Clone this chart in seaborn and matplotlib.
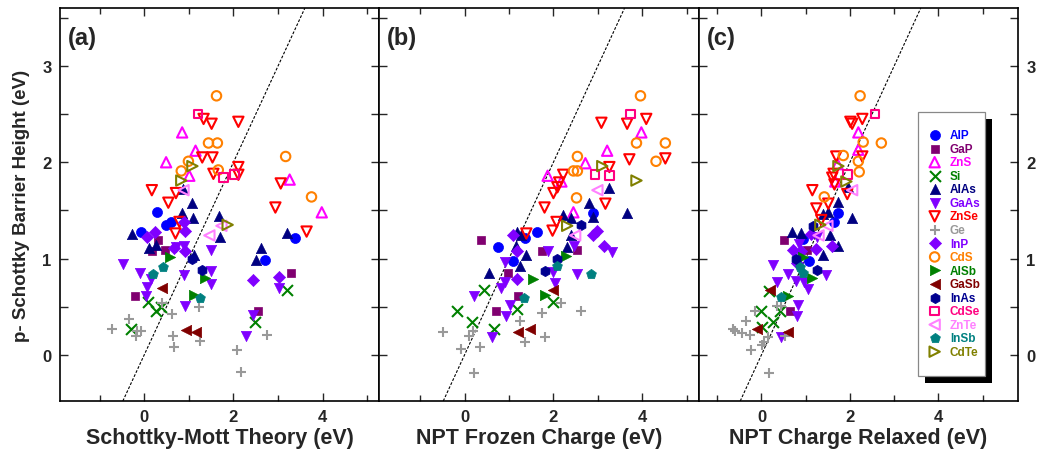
"""Schottky barrier heights vs. three model predictions (three panels)."""

import matplotlib

matplotlib.use("Agg")
import matplotlib.pyplot as plt
import seaborn as sns
from matplotlib.patches import Rectangle
from matplotlib.ticker import MultipleLocator

MATERIALS = ["AlP", "GaP", "ZnS", "Si", "AlAs", "GaAs", "ZnSe", "Ge", "InP",
             "CdS", "AlSb", "GaSb", "InAs", "CdSe", "ZnTe", "InSb", "CdTe"]
COLORS = {
    "AlP": "#0000FF", "GaP": "#800070", "ZnS": "#FF00FF", "Si": "#008000",
    "AlAs": "#000080", "GaAs": "#8000FF", "ZnSe": "#FF0000", "Ge": "#999999",
    "InP": "#8000FF", "CdS": "#FF8000", "AlSb": "#008000", "GaSb": "#800000",
    "InAs": "#000090", "CdSe": "#FF0080", "ZnTe": "#FF80FF", "InSb": "#008080",
    "CdTe": "#808000",
}
MARKERS = {
    "AlP": "o", "GaP": "s", "ZnS": "^", "Si": "x", "AlAs": "^", "GaAs": "v",
    "ZnSe": "v", "Ge": "+", "InP": "D", "CdS": "o", "AlSb": ">", "GaSb": "<",
    "InAs": "h", "CdSe": "s", "ZnTe": "<", "InSb": "p", "CdTe": ">",
}
OPEN = {"ZnS", "ZnSe", "CdS", "CdSe", "ZnTe", "CdTe"}
LINE_ART = {"Si", "Ge"}
SIZES = {"GaP": 40, "InP": 38, "CdSe": 38, "AlP": 52, "CdS": 46, "Si": 62, "Ge": 62}

# ---- panel (a): Schottky-Mott theory ----
ALP_A = [(-0.07, 1.28), (0.29, 1.48), (0.49, 1.35), (0.60, 1.38), (2.70, 0.98), (3.39, 1.21)]
GAP_A = [(0.31, 1.19), (0.47, 1.09), (0.18, 1.08), (-0.20, 0.61), (3.28, 0.85), (2.56, 0.46)]
ZNS_A = [(0.85, 2.31), (1.15, 2.12), (0.49, 2.00), (1.01, 1.86), (3.26, 1.82), (3.98, 1.48)]
SI_A = [(0.09, 0.55), (0.27, 0.46), (0.38, 0.50), (-0.29, 0.27), (3.21, 0.67), (2.49, 0.34)]
ALAS_A = [(-0.28, 1.26), (0.10, 1.11), (0.27, 1.14), (0.85, 1.47), (1.09, 1.42), (1.08, 1.58),
          (1.68, 1.44), (1.69, 1.22), (1.12, 1.04), (2.61, 1.11), (2.51, 0.99), (3.19, 1.27),
          (0.88, 1.72)]
GAAS_A = [(-0.48, 0.94), (-0.09, 0.85), (0.15, 0.79), (0.07, 0.70), (0.04, 0.61), (0.72, 1.12),
          (0.90, 1.13), (0.90, 0.83), (1.50, 1.09), (1.50, 0.87), (1.50, 0.74), (0.92, 0.51),
          (2.29, 0.20), (2.43, 0.41), (3.01, 0.69)]
ZNSE_A = [(1.33, 2.45), (1.51, 2.40), (2.11, 2.42), (1.30, 2.05), (1.53, 2.05), (1.55, 1.88),
          (2.11, 1.95), (2.11, 1.87), (0.17, 1.71), (0.71, 1.68), (3.06, 1.78), (2.94, 1.53),
          (3.64, 1.28), (0.54, 1.58), (0.70, 1.26), (0.79, 1.38)]
GE_A = [(-0.72, 0.27), (-0.34, 0.37), (-0.16, 0.25), (-0.07, 0.25), (-0.18, 0.20), (0.40, 0.54),
        (0.63, 0.42), (1.22, 0.50), (0.65, 0.20), (0.67, 0.08), (1.24, 0.14), (2.76, 0.21),
        (2.07, 0.05), (2.18, -0.18)]
INP_A = [(0.07, 1.22), (0.25, 1.28), (0.90, 1.38), (0.92, 1.29), (0.67, 1.11), (0.92, 1.08),
         (2.43, 0.78), (3.01, 0.81)]
CDS_A = [(1.62, 2.69), (1.44, 2.20), (1.64, 2.20), (0.99, 2.01), (0.83, 1.91), (1.66, 1.92),
         (3.17, 2.06), (3.75, 1.64)]
ALSB_A = [(0.58, 1.02), (1.37, 0.80), (1.12, 0.62)]
GASB_A = [(0.40, 0.69), (0.94, 0.26), (1.17, 0.24)]
INAS_A = [(1.08, 1.00), (1.30, 0.88)]
CDSE_A = [(1.21, 2.50), (1.78, 1.84), (2.02, 1.87)]
ZNTE_A = [(0.88, 1.71), (1.46, 1.24), (1.73, 1.34)]
INSB_A = [(0.20, 0.84), (0.43, 0.91), (1.24, 0.59)]
CDTE_A = [(1.08, 1.96), (0.83, 1.81), (1.87, 1.35)]

# ---- panel (b): NPT frozen charge ----
ALP_B = [(0.76, 1.12), (1.10, 0.97), (1.35, 1.21), (1.62, 1.28), (2.90, 1.47)]
GAP_B = [(0.38, 1.19), (1.75, 1.08), (2.52, 1.09), (0.97, 0.85), (1.21, 0.61), (0.70, 0.46)]
ZNS_B = [(3.98, 2.31), (3.21, 2.12), (2.72, 1.99), (1.87, 1.86), (2.18, 1.80), (2.45, 1.48)]
SI_B = [(0.43, 0.67), (1.98, 0.55), (1.19, 0.48), (-0.16, 0.46), (0.16, 0.34), (0.67, 0.27)]
ALAS_B = [(3.26, 1.73), (2.81, 1.58), (3.66, 1.47), (2.22, 1.45), (2.40, 1.42), (2.88, 1.43),
          (1.17, 1.28), (1.28, 1.24), (1.15, 1.13), (1.39, 1.04), (1.24, 0.92), (2.31, 1.12),
          (0.56, 0.85), (2.40, 1.24)]
GAAS_B = [(0.92, 0.96), (1.87, 1.08), (2.47, 1.13), (3.33, 1.07), (2.00, 0.86), (2.52, 0.84),
          (2.04, 0.75), (0.90, 0.76), (0.81, 0.69), (0.22, 0.61), (1.03, 0.52), (0.94, 0.40),
          (0.61, 0.19)]
ZNSE_B = [(3.08, 2.41), (3.66, 2.40), (4.09, 2.45), (3.71, 2.03), (4.52, 2.04), (3.26, 1.95),
          (2.22, 1.87), (2.13, 1.79), (2.09, 1.74), (2.00, 1.68), (3.17, 1.57), (1.80, 1.53),
          (2.07, 1.38), (1.98, 1.29), (1.39, 1.26)]
GE_B = [(2.18, 0.54), (2.61, 0.46), (1.24, 0.35), (1.75, 0.43), (-0.49, 0.24), (0.18, 0.25),
        (0.09, 0.20), (1.35, 0.13), (1.80, 0.19), (-0.09, 0.06), (0.34, 0.08), (0.22, -0.19)]
INP_B = [(1.08, 1.24), (2.97, 1.29), (2.88, 1.24), (1.17, 1.08), (3.15, 1.13), (1.17, 0.79)]
CDS_B = [(3.96, 2.69), (3.87, 2.20), (4.52, 2.20), (4.31, 2.01), (2.54, 2.06), (2.45, 1.91),
         (2.54, 1.91), (2.52, 1.63)]
ALSB_B = [(2.29, 1.03), (1.53, 0.79), (1.80, 0.62)]
GASB_B = [(2.00, 0.67), (1.21, 0.24), (1.48, 0.27)]
INAS_B = [(2.61, 1.35), (2.09, 1.00), (1.82, 0.87)]
CDSE_B = [(3.73, 2.50), (2.94, 1.87), (3.26, 1.86)]
ZNTE_B = [(2.99, 1.71), (2.49, 1.24)]
INSB_B = [(2.07, 0.92), (2.85, 0.84), (1.33, 0.59)]
CDTE_B = [(3.10, 1.96), (3.87, 1.81), (2.31, 1.34)]

# ---- panel (c): NPT charge relaxed ----
ALP_C = [(0.93, 1.20), (1.08, 0.97), (1.65, 1.38), (1.72, 1.47)]
GAP_C = [(0.50, 1.19), (1.02, 1.09), (0.65, 0.46)]
ZNS_C = [(2.19, 2.31), (2.19, 2.13), (1.72, 1.98), (1.67, 1.80)]
SI_C = [(0.16, 0.66), (0.00, 0.45), (0.27, 0.34), (0.43, 0.46), (0.02, 0.29)]
ALAS_C = [(1.74, 1.59), (2.05, 1.42), (0.70, 1.28), (0.90, 1.27), (1.38, 1.46), (1.51, 1.48),
          (1.56, 1.24), (1.72, 1.13), (1.40, 1.04), (1.96, 1.74)]
GAAS_C = [(0.27, 0.93), (0.59, 0.84), (0.77, 0.77), (0.97, 0.76), (0.36, 0.76), (1.06, 0.68),
          (1.47, 0.83), (0.83, 0.52), (0.81, 0.40), (0.45, 0.19), (0.85, 1.15), (1.25, 1.22)]
ZNSE_C = [(2.28, 2.45), (2.01, 2.42), (2.05, 2.40), (2.28, 2.06), (1.69, 2.06), (1.63, 1.88),
          (1.60, 1.84), (1.65, 1.77), (1.94, 1.67), (1.15, 1.71), (1.51, 1.57), (1.24, 1.52),
          (1.35, 1.40)]
GE_C = [(-0.14, 0.45), (-0.34, 0.35), (-0.65, 0.27), (-0.60, 0.25), (-0.43, 0.23), (-0.27, 0.21),
        (-0.23, 0.05), (0.02, 0.10), (0.05, 0.13), (0.16, -0.19), (0.36, 0.51), (0.45, 0.51),
        (0.54, 0.20), (0.14, 0.19)]
INP_C = [(0.72, 1.09), (0.90, 1.08), (1.11, 1.26), (1.24, 1.10), (1.60, 1.13), (0.80, 0.95)]
CDS_C = [(2.23, 2.69), (2.30, 2.21), (2.71, 2.20), (1.85, 2.07), (2.19, 2.01), (2.21, 1.90),
         (1.42, 1.64)]
ALSB_C = [(0.93, 1.02), (1.15, 0.80), (0.61, 0.61)]
GASB_C = [(0.20, 0.67), (-0.09, 0.27), (0.61, 0.24)]
INAS_C = [(1.17, 1.34), (0.77, 1.00), (1.26, 0.88)]
CDSE_C = [(2.57, 2.50), (1.94, 1.87)]
ZNTE_C = [(2.05, 1.71), (1.49, 1.34), (1.29, 1.24)]
INSB_C = [(0.86, 0.91), (0.95, 0.85), (0.45, 0.60)]
CDTE_C = [(1.74, 1.96), (1.92, 1.80), (1.33, 1.35)]

PANEL_A = dict(zip(MATERIALS, [ALP_A, GAP_A, ZNS_A, SI_A, ALAS_A, GAAS_A, ZNSE_A, GE_A, INP_A,
                               CDS_A, ALSB_A, GASB_A, INAS_A, CDSE_A, ZNTE_A, INSB_A, CDTE_A]))
PANEL_B = dict(zip(MATERIALS, [ALP_B, GAP_B, ZNS_B, SI_B, ALAS_B, GAAS_B, ZNSE_B, GE_B, INP_B,
                               CDS_B, ALSB_B, GASB_B, INAS_B, CDSE_B, ZNTE_B, INSB_B, CDTE_B]))
PANEL_C = dict(zip(MATERIALS, [ALP_C, GAP_C, ZNS_C, SI_C, ALAS_C, GAAS_C, ZNSE_C, GE_C, INP_C,
                               CDS_C, ALSB_C, GASB_C, INAS_C, CDSE_C, ZNTE_C, INSB_C, CDTE_C]))

PANEL_TAGS = ["(a)", "(b)", "(c)"]
X_LABELS = ["Schottky-Mott Theory (eV)", "NPT Frozen Charge (eV)", "NPT Charge Relaxed (eV)"]
X_LIMITS = [(-1.89, 5.27), (-1.92, 5.27), (-1.42, 5.80)]


def draw_panel(ax, panel):
    for name in MATERIALS:
        pts = panel[name]
        xs = [p[0] for p in pts]
        ys = [p[1] for p in pts]
        color = COLORS[name]
        kw = dict(marker=MARKERS[name], s=SIZES.get(name, 55), color=color, zorder=3)
        if name in OPEN:
            kw.update(facecolor="none", edgecolor=color, linewidth=1.5)
        elif name in LINE_ART:
            kw.update(linewidth=1.5)
        else:
            kw.update(edgecolor=color, linewidth=0.5)
        sns.scatterplot(x=xs, y=ys, ax=ax, label=name, legend=False, **kw)


sns.set_theme(style="ticks")
plt.rcParams["font.family"] = ["Liberation Sans", "DejaVu Sans"]
plt.rcParams["font.weight"] = "bold"
plt.rcParams["axes.labelweight"] = "bold"

fig, axes = plt.subplots(1, 3, figsize=(10.39, 4.6), dpi=100, sharey=True)
fig.subplots_adjust(left=0.0577, right=0.9798, bottom=0.126, top=0.98, wspace=0)

for ax, panel, tag, xlabel, xlim in zip(axes, [PANEL_A, PANEL_B, PANEL_C], PANEL_TAGS, X_LABELS, X_LIMITS):
    draw_panel(ax, panel)
    ax.axline((0, 0), slope=1, color="black", linestyle=(0, (2.5, 1.5)), linewidth=0.8, zorder=2)
    ax.set_xlim(*xlim)
    ax.set_ylim(-0.48, 3.6)
    ax.xaxis.set_major_locator(MultipleLocator(2))
    ax.xaxis.set_minor_locator(MultipleLocator(1))
    ax.yaxis.set_major_locator(MultipleLocator(1))
    ax.yaxis.set_minor_locator(MultipleLocator(0.5))
    ax.tick_params(which="both", direction="in", top=True, right=True, width=1.0, labelsize=12, pad=6)
    ax.tick_params(which="major", length=6)
    ax.tick_params(axis="x", which="minor", length=4)
    ax.tick_params(axis="y", which="minor", length=6)
    for spine in ax.spines.values():
        spine.set_linewidth(1.2)
        spine.set_color("black")
    ax.set_xlabel(xlabel, fontsize=15.5, fontweight="bold", labelpad=2)
    ax.text(0.025, 0.926, tag, transform=ax.transAxes, fontsize=17, fontweight="bold",
            ha="left", va="center")

axes[0].set_ylabel("p- Schottky Barrier Height (eV)", fontsize=13.5, fontweight="bold", labelpad=9)
axes[2].tick_params(axis="y", labelright=True, labelleft=False)

# legend with a hard black drop shadow
ax = axes[2]
box_x0, box_y0, box_w, box_h = 0.6875, 0.064, 0.2095, 0.672
ax.add_patch(Rectangle((box_x0 + 0.022, box_y0 - 0.018), box_w, box_h, transform=ax.transAxes,
                       facecolor="black", edgecolor="none", clip_on=False, zorder=4.4))
ax.add_patch(Rectangle((box_x0, box_y0), box_w, box_h, transform=ax.transAxes,
                       facecolor="white", edgecolor="#888888", linewidth=0.9, clip_on=False, zorder=4.5))
handles, labels = ax.get_legend_handles_labels()
ax.legend(handles, labels, loc="upper left", bbox_to_anchor=(0.665, 0.74), frameon=False,
          borderaxespad=0, borderpad=1.6, handlelength=0.8, handletextpad=0.9, labelspacing=0.13,
          prop={"weight": "bold", "size": 8.5}, labelcolor=[COLORS[n] for n in labels],
          scatterpoints=1)

fig.savefig("out.png", dpi=100)
